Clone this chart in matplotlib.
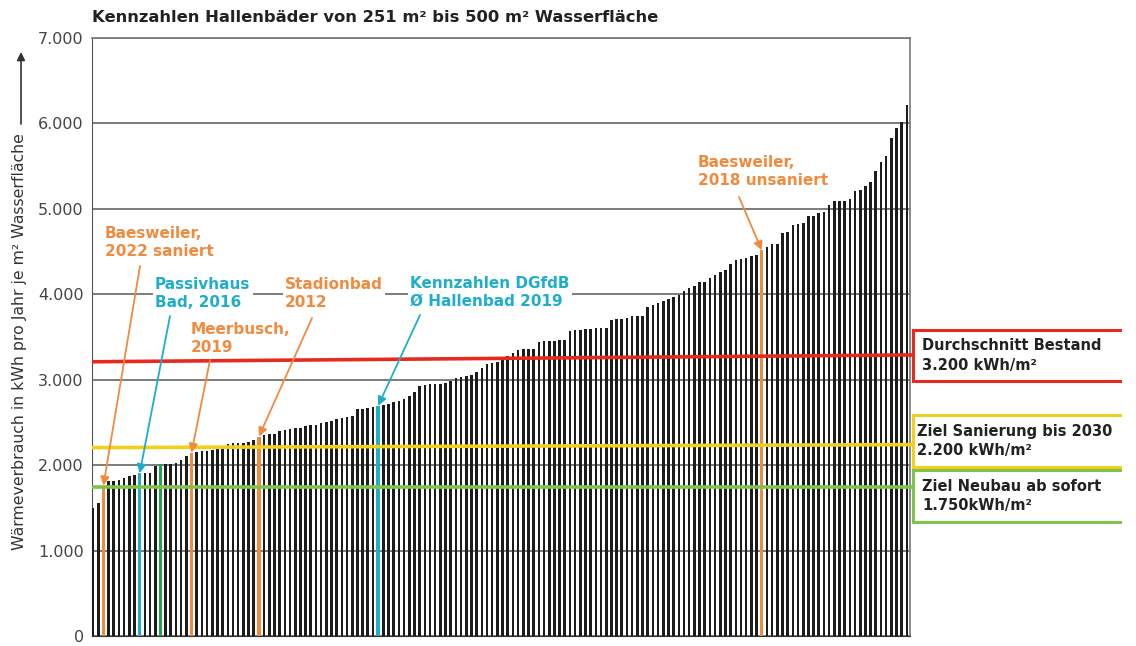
import numpy as np
import matplotlib.pyplot as plt
from matplotlib.patches import Rectangle

# Wärmeverbrauch je Bad (kWh pro Jahr je m2 Wasserfläche), aufsteigend sortiert
vals = [
    1500, 1560, 1760, 1810, 1820, 1830, 1850, 1870, 1890, 1905,
    1905, 1910, 1985, 2015, 2015, 2015, 2020, 2060, 2110, 2145,
    2150, 2160, 2170, 2180, 2190, 2225, 2245, 2255, 2260, 2265,
    2270, 2300, 2335, 2355, 2365, 2370, 2400, 2415, 2420, 2430,
    2440, 2455, 2465, 2475, 2495, 2505, 2520, 2537, 2550, 2565,
    2575, 2655, 2663, 2670, 2675, 2695, 2705, 2720, 2735, 2750,
    2770, 2810, 2860, 2930, 2940, 2945, 2950, 2955, 2965, 2990,
    3015, 3035, 3045, 3050, 3085, 3140, 3180, 3190, 3210, 3245,
    3275, 3315, 3350, 3355, 3360, 3365, 3445, 3450, 3450, 3455,
    3460, 3465, 3575, 3580, 3585, 3590, 3595, 3600, 3605, 3610,
    3700, 3705, 3710, 3720, 3740, 3745, 3750, 3855, 3875, 3900,
    3925, 3950, 3970, 3992, 4039, 4070, 4100, 4140, 4147, 4186,
    4225, 4264, 4283, 4353, 4399, 4411, 4419, 4450, 4465, 4515,
    4554, 4585, 4585, 4717, 4729, 4806, 4826, 4837, 4915, 4922,
    4953, 4969, 5047, 5097, 5097, 5097, 5116, 5213, 5225, 5271,
    5318, 5446, 5543, 5620, 5833, 5950, 6015, 6221,
]

ORANGE = '#f08a3e'
CYAN = '#1eaecb'
GREEN = '#1fa552'

# markierte Bäder: Index, Farbe
hl_idx = [2, 9, 13, 19, 32, 55, 129]
hl_col = [ORANGE, CYAN, GREEN, ORANGE, ORANGE, CYAN, ORANGE]

yticks = [0, 1000, 2000, 3000, 4000, 5000, 6000, 7000]
ytick_labels = ['0', '1.000', '2.000', '3.000', '4.000', '5.000', '6.000', '7.000']

# Referenzlinien (Start- und Endwert)
avg_line = [3210, 3290]
san_line = [2205, 2240]
neu_line = [1740, 1740]

title = 'Kennzahlen Hallenbäder von 251 m² bis 500 m² Wasserfläche'
ylabel = 'Wärmeverbrauch in kWh pro Jahr je m² Wasserfläche'

W, H = 1136, 646


def px(x, y):
    return (x / W, 1 - y / H)


plt.rcParams['font.family'] = ['DejaVu Sans']

fig = plt.figure(figsize=(W / 100, H / 100), dpi=100)
ax = fig.add_axes([92 / W, 1 - 636 / H, (910 - 92) / W, (636 - 38) / H])

n = len(vals)
x = np.arange(n)
colors = ['#1c1c1c'] * n
widths = [0.5] * n
for i, c in zip(hl_idx, hl_col):
    colors[i] = c
    widths[i] = 0.66

ax.bar(x, vals, width=widths, color=colors, zorder=3)
x0, x1 = -0.2, n - 0.4
ax.set_xlim(x0, x1)
ax.set_ylim(0, 7000)
ax.set_xticks([])
ax.set_yticks(yticks)
ax.set_yticklabels(ytick_labels, fontsize=11.5, color='#444444')
ax.tick_params(axis='y', length=0, pad=6)
ax.grid(axis='y', color='#666666', lw=1.2, zorder=1)
for s in ['top', 'right']:
    ax.spines[s].set_color('#777777')
    ax.spines[s].set_linewidth(1.2)
ax.spines['left'].set_color('#555555')
ax.spines['bottom'].set_color('#333333')

# Linien laufen bis an die Kästen rechts
x_end = x0 + (913 - 92) / (910 - 92) * (x1 - x0)
ax.plot([x0, x_end], avg_line, color='#e8291f', lw=2.6, clip_on=False, zorder=5, solid_capstyle='butt')
ax.plot([x0, x_end], san_line, color='#f2cf1b', lw=2.6, clip_on=False, zorder=5, solid_capstyle='butt')
ax.plot([x0, x_end], neu_line, color='#7fc24c', lw=2.6, clip_on=False, zorder=5, solid_capstyle='butt')

# Beschriftungen mit Pfeilen
labels = [
    ('Baesweiler,\n2022 saniert', ORANGE, (105, 226), (140, 266), 2),
    ('Passivhaus\nBad, 2016', CYAN, (155, 277), (170, 316), 9),
    ('Meerbusch,\n2019', ORANGE, (191, 322), (210, 360), 19),
    ('Stadionbad\n2012', ORANGE, (285, 277), (312, 318), 32),
    ('Kennzahlen DGfdB\nØ Hallenbad 2019', CYAN, (410, 276), (420, 315), 55),
    ('Baesweiler,\n2018 unsaniert', ORANGE, (698, 155), (739, 197), 129),
]
for txt, c, tpos, apos, idx in labels:
    fig.text(*px(*tpos), txt, color=c, fontsize=11, fontweight='bold', ha='left', va='top',
             linespacing=1.25, zorder=6,
             bbox=dict(facecolor='white', edgecolor='none', pad=1.5))
    ax.annotate('', xy=(idx, vals[idx]), xytext=px(*apos), textcoords='figure fraction',
                arrowprops=dict(arrowstyle='-|>', color=c, lw=1.3, mutation_scale=13,
                                shrinkA=0, shrinkB=0), zorder=7)

# Kästen rechts
boxes = [
    ('Durchschnitt Bestand\n3.200 kWh/m²', '#e8291f', 330, 381, 922),
    ('Ziel Sanierung bis 2030\n2.200 kWh/m²', '#f2cf1b', 415, 467, 917),
    ('Ziel Neubau ab sofort\n1.750kWh/m²', '#7fc24c', 470, 522, 922),
]
for txt, c, top, bot, tx in boxes:
    fig.add_artist(Rectangle(px(913, bot), (1135 - 913) / W, (bot - top) / H,
                             transform=fig.transFigure, fill=False, edgecolor=c, lw=2.2))
    fig.text(*px(tx, (top + bot) / 2), txt, fontsize=10.5, fontweight='bold', color='#222222',
             ha='left', va='center', linespacing=1.35)
fig.add_artist(Rectangle((1122 / W, 0), 14 / W, 1, transform=fig.transFigure,
                         facecolor='white', edgecolor='none', zorder=20))

# Titel und Achsenbeschriftung
fig.text(*px(92, 18), title, fontsize=11.8, fontweight='bold', color='#222222', ha='left', va='center')
fig.text(*px(20, 342), ylabel, fontsize=11.3, color='#333333', rotation=90, ha='center', va='center')
ax.annotate('', xy=px(21, 52), xycoords='figure fraction', xytext=px(21, 124),
            textcoords='figure fraction',
            arrowprops=dict(arrowstyle='-|>', color='#333333', lw=1.2, mutation_scale=12,
                            shrinkA=0, shrinkB=0))

fig.savefig('out.png', dpi=100)
